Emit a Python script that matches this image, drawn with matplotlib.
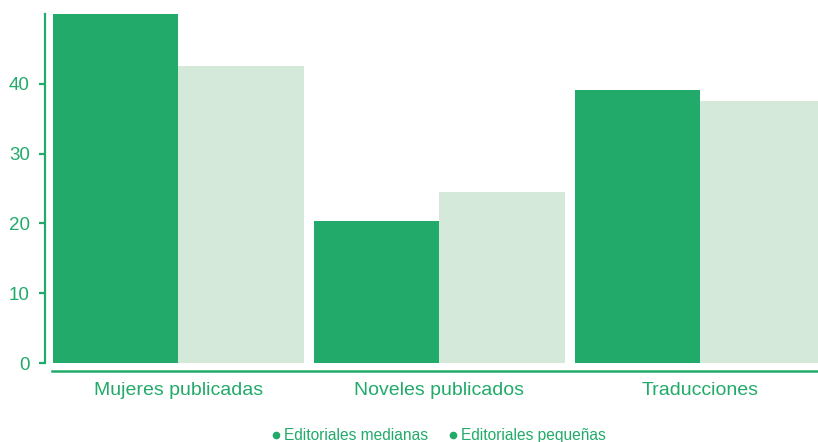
import matplotlib
matplotlib.use("Agg")
import matplotlib.pyplot as plt
from matplotlib.lines import Line2D
import numpy as np

plt.rcParams['font.family'] = ['Liberation Sans', 'DejaVu Sans']

categories = ["Mujeres publicadas", "Noveles publicados", "Traducciones"]
series_names = ["Editoriales medianas", "Editoriales pequeñas"]
medianas = [50.2, 20.3, 39.1]
pequenas = [42.6, 24.5, 37.6]
y_ticks = [0, 10, 20, 30, 40]

GREEN = '#22aa6a'
LIGHT = '#d5e9db'

fig = plt.figure(figsize=(8.18, 4.42), dpi=100)
# axes box in pixels: x 45..818, y 14..363 (from top)
ax = fig.add_axes([45 / 818, (442 - 363) / 442, (818 - 45) / 818, (363 - 14) / 442])

x = np.arange(len(categories))
w = 0.481
ax.bar(x - w / 2, medianas, width=w, color=GREEN, linewidth=0)
ax.bar(x + w / 2, pequenas, width=w, color=LIGHT, linewidth=0)

ax.set_xlim(-0.51, 2.452)
ax.set_ylim(0, 50)

for side in ('top', 'right'):
    ax.spines[side].set_visible(False)
ax.spines['left'].set_color(GREEN)
ax.spines['left'].set_linewidth(1.6)
ax.spines['left'].set_bounds(0, 50)
ax.spines['bottom'].set_color(GREEN)
ax.spines['bottom'].set_linewidth(1.8)
ax.spines['bottom'].set_position(('outward', 6))
ax.spines['bottom'].set_bounds(-0.483, 2.452)

ax.set_yticks(y_ticks)
ax.set_yticklabels([str(t) for t in y_ticks])
ax.tick_params(axis='y', colors=GREEN, labelcolor=GREEN, labelsize=13.5,
               length=4, width=1.6, pad=7)
ax.set_xticks(x)
ax.set_xticklabels(categories)
ax.tick_params(axis='x', length=0, labelcolor=GREEN, labelsize=14, pad=8)

handles = [Line2D([], [], linestyle='none', marker='o', markersize=4.5,
                  color=GREEN) for _ in series_names]
leg = fig.legend(handles, series_names, loc='lower center', ncol=2,
                 bbox_to_anchor=(0.535, -0.035), frameon=False, fontsize=11.2,
                 handletextpad=0.1, columnspacing=1.2, handlelength=0.8)
for t in leg.get_texts():
    t.set_color(GREEN)

fig.savefig('out.png', dpi=100)
